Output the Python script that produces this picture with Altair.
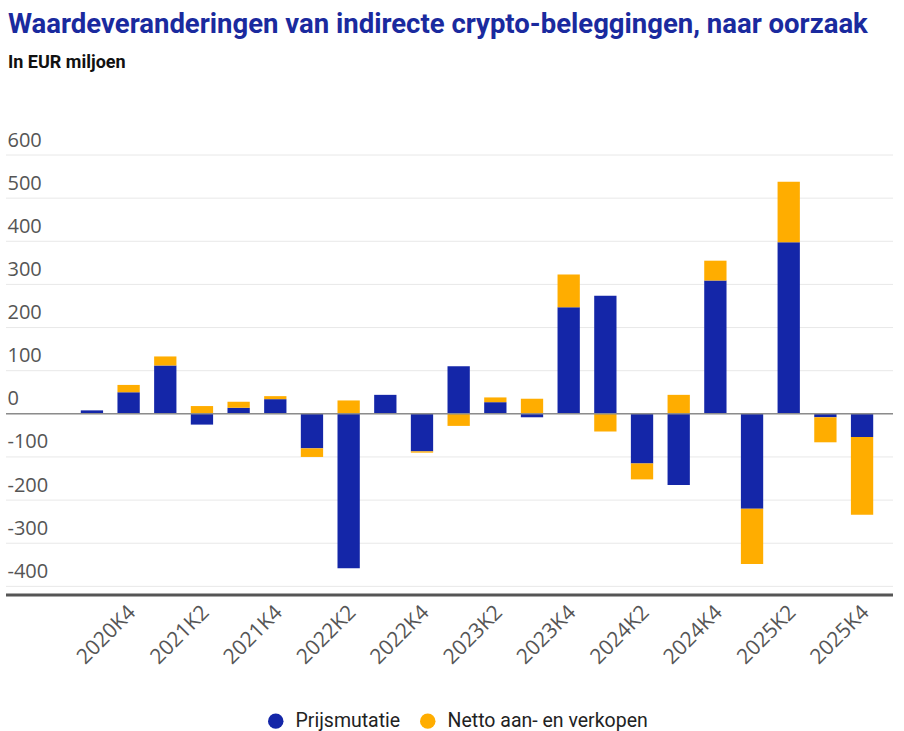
import altair as alt
import pandas as pd

# Kwartalen (K = kwartaal)
quarters = ["2020K3", "2020K4", "2021K1", "2021K2", "2021K3", "2021K4",
            "2022K1", "2022K2", "2022K3", "2022K4", "2023K1", "2023K2",
            "2023K3", "2023K4", "2024K1", "2024K2", "2024K3", "2024K4",
            "2025K1", "2025K2", "2025K3", "2025K4"]

# Waardeveranderingen in EUR miljoen
prijsmutatie = [8, 50, 112, -25, 14, 34, -80, -358, 44, -87, 110, 27,
                -8, 247, 274, -115, -165, 309, -220, 398, -8, -54]
netto = [0, 17, 21, 18, 14, 7, -20, 31, 0, -3, -28, 11,
         35, 76, -41, -37, 44, 46, -128, 140, -58, -180]

series = ["Prijsmutatie", "Netto aan- en verkopen"]
colors = ["#1426a8", "#ffad00"]
y_ticks = [-400, -300, -200, -100, 0, 100, 200, 300, 400, 500, 600]
x_labels = [q for q in quarters if q.endswith(("K2", "K4"))]
y_min, y_max = -420, 600

rows = []
for q, p, n in zip(quarters, prijsmutatie, netto):
    rows.append({"kwartaal": q, "reeks": series[0], "waarde": p, "volgorde": 0})
    rows.append({"kwartaal": q, "reeks": series[1], "waarde": n, "volgorde": 1})
df = pd.DataFrame(rows)

W, H = 887, 440
label_font = "Open Sans"
y_scale = alt.Scale(domain=[y_min, y_max], nice=False)
y_axis = alt.Axis(
    values=y_ticks, title=None, domain=False, ticks=False, grid=False,
    labelAlign="left", labelBaseline="bottom", labelPadding=-1,
    labelOffset=-5, labelFont=label_font, labelFontSize=20,
    labelColor="#555555", labelExpr="toString(datum.value)",
)

# Horizontal gridlines across the full width, under the bars
grid = alt.Chart(pd.DataFrame({"v": y_ticks})).mark_rule(
    color="#e8e8e8", strokeWidth=1
).encode(
    y=alt.Y("v:Q", scale=y_scale, axis=y_axis),
    x=alt.value(0), x2=alt.value(W),
)

bars = alt.Chart(df).mark_bar().encode(
    x=alt.X(
        "kwartaal:N",
        sort=quarters,
        scale=alt.Scale(range=[67.6, 874.4], paddingInner=0.392, paddingOuter=0.196),
        axis=alt.Axis(
            values=x_labels, title=None, labelAngle=-45, ticks=False,
            domain=False, labelFont=label_font,
            labelFontSize=21, labelColor="#555555", labelAlign="right",
            labelBaseline="middle", labelPadding=14, labelOffset=4,
            labelOverlap=False, grid=False,
        ),
    ),
    y=alt.Y("waarde:Q", stack="zero", scale=y_scale, axis=y_axis),
    color=alt.Color(
        "reeks:N",
        sort=series,
        scale=alt.Scale(domain=series, range=colors),
        legend=alt.Legend(
            title=None, orient="none", direction="horizontal",
            legendX=260, legendY=556, symbolType="circle", symbolSize=240,
            symbolStrokeWidth=0, labelFont="Roboto",
            labelFontSize=19.5, labelColor="#222222", labelOffset=10,
            labelLimit=400, columnPadding=17, padding=0,
        ),
    ),
    order=alt.Order("volgorde:Q"),
)

zero_line = alt.Chart(pd.DataFrame({"y": [0]})).mark_rule(
    color="#8c8c8c", strokeWidth=1.5
).encode(y=alt.Y("y:Q", scale=y_scale), x=alt.value(0), x2=alt.value(W))

base_line = alt.Chart(pd.DataFrame({"y": [y_min]})).mark_rule(
    color="#555555", strokeWidth=3
).encode(y=alt.Y("y:Q", scale=y_scale), x=alt.value(0), x2=alt.value(W))

chart = alt.layer(grid, bars, zero_line, base_line).properties(
    width=W,
    height=H,
    padding={"left": 6, "top": 155, "right": 11, "bottom": 136},
    autosize=alt.AutoSizeParams(type="none"),
    title=alt.TitleParams(
        text="Waardeveranderingen van indirecte crypto-beleggingen, naar oorzaak",
        subtitle="In EUR miljoen",
        anchor="start", frame="group", offset=58, dx=2,
        font="Roboto", fontSize=27.5, fontWeight="bold",
        color="#1a2a9e", subtitleFont="Roboto",
        subtitleFontSize=18, subtitleFontWeight="bold", subtitleColor="#111111",
        subtitlePadding=16,
    ),
).configure_view(stroke=None)

chart.save("out.html", embed_options={"renderer": "svg", "actions": False})
